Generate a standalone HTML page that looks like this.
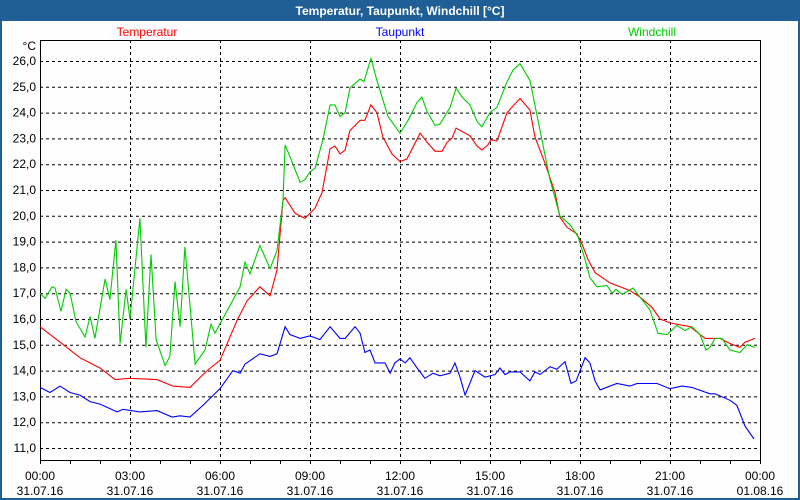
<!DOCTYPE html>
<html><head><meta charset="utf-8"><style>
body{margin:0;width:800px;height:500px;overflow:hidden;background:#1f5f96;}
svg{display:block;font-family:"Liberation Sans",sans-serif;}
</style></head><body>
<svg id="c" width="800" height="500">
<rect x="0" y="0" width="800" height="500" fill="#1f5f96"/>
<rect x="2" y="21" width="796" height="477" fill="#fdfefd"/>
<text x="400" y="15" text-anchor="middle" fill="#fff" font-weight="bold" font-size="12">Temperatur, Taupunkt, Windchill [°C]</text>
<text x="147" y="36" text-anchor="middle" fill="#ff0000" font-size="12">Temperatur</text>
<text x="400" y="36" text-anchor="middle" fill="#0000ff" font-size="12">Taupunkt</text>
<text x="652" y="36" text-anchor="middle" fill="#00cc00" font-size="12">Windchill</text>
<text x="36" y="50" text-anchor="end" font-size="12" fill="#000">°C</text>
<g id="grid"></g><g id="series"></g>
</svg>
<script>
const yTicks=[11,12,13,14,15,16,17,18,19,20,21,22,23,24,25,26];
const xTickHours=[0,3,6,9,12,15,18,21,24];
const xTimeLabels=["00:00","03:00","06:00","09:00","12:00","15:00","18:00","21:00","00:00"];
const xDateLabels=["31.07.16","31.07.16","31.07.16","31.07.16","31.07.16","31.07.16","31.07.16","31.07.16","01.08.16"];
const tempH=[0,0.67,1.33,2,2.5,3,3.9,4.43,5,5.57,6,6.57,6.9,7.33,7.67,7.9,8.1,8.17,8.5,8.83,9.17,9.4,9.67,9.83,10,10.17,10.33,10.67,10.83,11.03,11.23,11.43,11.73,12,12.23,12.67,12.9,13.17,13.4,13.57,13.73,13.87,14.33,14.57,14.73,14.93,15.03,15.23,15.57,16,16.33,16.5,16.83,17.17,17.33,17.57,17.9,18.07,18.27,18.5,19,19.67,20,20.4,20.67,21,21.67,22.17,22.67,23,23.33,23.5,23.83];
const tempV=[15.7,15.1,14.5,14.1,13.65,13.7,13.65,13.4,13.35,14.0,14.4,15.95,16.7,17.25,16.9,17.9,20.6,20.7,20.1,19.9,20.3,20.9,22.6,22.7,22.4,22.55,23.3,23.7,23.7,24.3,24.0,23.05,22.4,22.1,22.2,23.2,22.85,22.5,22.5,22.85,23.0,23.4,23.1,22.7,22.55,22.75,22.95,22.9,24.0,24.55,24.1,23.05,22.05,20.9,19.95,19.55,19.3,18.9,18.3,17.8,17.4,17.1,16.85,16.45,16.0,15.85,15.7,15.25,15.25,15.05,14.9,15.1,15.25];
const windH=[0,0.17,0.4,0.5,0.7,0.87,1,1.2,1.5,1.67,1.83,2.17,2.33,2.53,2.67,2.87,3,3.33,3.53,3.7,3.87,4.17,4.33,4.5,4.67,4.83,5.17,5.5,5.7,5.83,6.67,6.83,7,7.33,7.67,7.9,8.1,8.17,8.33,8.67,8.83,9,9.17,9.43,9.67,9.83,10,10.17,10.33,10.67,10.8,11.03,11.23,11.6,12,12.27,12.57,12.73,12.9,13.17,13.33,13.67,13.87,14.07,14.33,14.57,14.73,15,15.23,15.57,15.77,16,16.33,16.67,17,17.33,17.67,17.93,18.17,18.33,18.57,18.9,19.07,19.2,19.4,19.77,20,20.33,20.6,20.9,21.23,21.5,21.73,22,22.2,22.33,22.5,22.73,23,23.33,23.57,23.83];
const windV=[17.0,16.8,17.25,17.2,16.3,17.15,17.0,15.9,15.3,16.1,15.25,17.55,16.75,19.05,15.05,17.15,16.0,19.9,14.9,18.5,15.2,14.2,14.55,17.45,15.7,18.8,14.25,14.8,15.8,15.45,17.25,18.2,17.75,18.85,17.95,18.65,20.6,22.75,22.3,21.3,21.4,21.7,21.85,22.95,24.3,24.3,23.85,24.0,24.95,25.3,25.2,26.1,25.25,23.85,23.2,23.7,24.4,24.6,24.05,23.5,23.55,24.2,24.95,24.6,24.3,23.65,23.45,24.0,24.2,25.2,25.65,25.9,25.25,23.3,21.4,20.0,19.65,19.2,18.3,17.6,17.25,17.3,17.0,17.15,16.95,17.2,16.85,16.35,15.45,15.4,15.75,15.55,15.7,15.4,14.8,14.9,15.25,15.25,14.8,14.7,15.0,14.9];
const dewH=[0,0.33,0.67,1,1.33,1.67,2,2.57,2.77,3.33,3.9,4.4,4.67,5,5.43,6,6.43,6.67,6.83,7.33,7.67,7.9,8.17,8.33,8.67,9,9.33,9.67,10,10.17,10.5,10.67,10.83,11,11.17,11.5,11.67,11.83,12,12.17,12.33,12.57,12.83,13.1,13.33,13.67,13.83,14,14.17,14.5,14.83,15.17,15.33,15.5,15.67,16,16.33,16.5,16.67,17,17.23,17.5,17.7,17.87,18.17,18.33,18.5,18.67,19.23,19.67,19.9,20.57,21,21.4,21.73,22.33,22.5,23,23.23,23.5,23.8];
const dewV=[13.35,13.15,13.4,13.15,13.05,12.8,12.7,12.4,12.5,12.4,12.45,12.2,12.25,12.2,12.65,13.3,14.0,13.9,14.25,14.65,14.55,14.65,15.7,15.4,15.25,15.35,15.2,15.7,15.25,15.25,15.7,15.45,14.7,14.8,14.3,14.3,13.9,14.3,14.45,14.3,14.5,14.1,13.7,13.9,13.8,13.9,14.3,13.75,13.05,14.0,13.75,13.85,14.1,13.85,13.95,13.95,13.6,13.95,13.85,14.15,14.05,14.35,13.5,13.6,14.5,14.3,13.6,13.25,13.5,13.4,13.5,13.5,13.3,13.4,13.35,13.1,13.1,12.85,12.65,11.85,11.35];

const NS='http://www.w3.org/2000/svg';
const L=40,R=760,T=40,B=460;
function X(h){return L+30*h;}
function Y(v){return 61+(26-v)*25.8;}
function mk(tag,attrs,parent){const e=document.createElementNS(NS,tag);for(const k in attrs)e.setAttribute(k,attrs[k]);parent.appendChild(e);return e;}
const grid=document.getElementById('grid');
yTicks.forEach(v=>{
  const ln=mk('line',{x1:L,x2:R,y1:Y(v)+0.5,y2:Y(v)+0.5,stroke:'#000','stroke-dasharray':'3,3'},grid);
  
  
  const t=mk('text',{x:36,y:Y(v)+4,'text-anchor':'end','font-size':12,fill:'#000'},grid);
  t.textContent=v.toFixed(1).replace('.',',');
  
  
});
xTickHours.forEach((h,i)=>{
  if(h>0&&h<24){
    const ln=mk('line',{x1:X(h)+0.5,x2:X(h)+0.5,y1:T,y2:B,stroke:'#000','stroke-dasharray':'3,3'},grid);
    
    
  }
  const t1=mk('text',{x:X(h),y:480,'text-anchor':'middle','font-size':12,fill:'#000'},grid);
  t1.textContent=xTimeLabels[i];
  
  
  const t2=mk('text',{x:X(h),y:495,'text-anchor':'middle','font-size':12,fill:'#000'},grid);
  t2.textContent=xDateLabels[i];
  
  
});
for(let h=0;h<=24;h++){
  const tk=mk('line',{x1:X(h)+0.5,x2:X(h)+0.5,y1:B,y2:B+4,stroke:'#000'},grid);
  
  
}
const fr=mk('path',{d:`M${L+0.5},${B}V${T+0.5}H${R+0.5}V${B}`,fill:'none',stroke:'#000'},grid);


const ax=mk('line',{x1:L,x2:R+1,y1:B+0.5,y2:B+0.5,stroke:'#000'},grid);


const ser=document.getElementById('series');
function line(hs,vs,color,name){
  const p=mk('polyline',{points:hs.map((h,i)=>X(h).toFixed(1)+','+Y(vs[i]).toFixed(1)).join(' '),fill:'none',stroke:color,'stroke-width':1.1},ser);
  
  
}
line(dewH,dewV,'#0000ff','taupunkt-line');
line(tempH,tempV,'#ff0000','temperatur-line');
line(windH,windV,'#00cc00','windchill-line');
</script>
</body></html>
